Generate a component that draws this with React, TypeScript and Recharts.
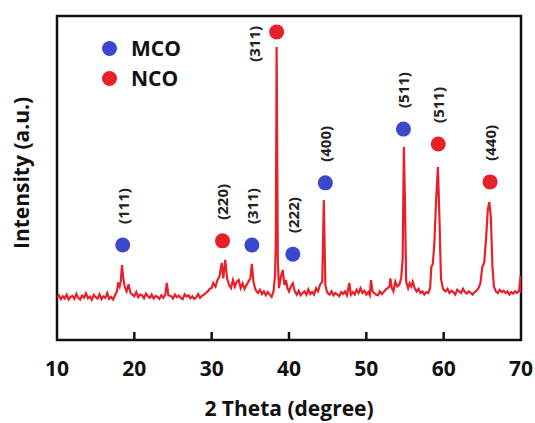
import React from 'react';
import {
  ComposedChart,
  Line,
  Scatter,
  XAxis,
  YAxis,
  ReferenceArea,
} from 'recharts';

// XRD pattern: [2θ, intensity (a.u.)]
const xrdPattern: [number, number][] = [
  [10, 130], [10.25, 138], [10.5, 126], [10.75, 135],
  [11, 128], [11.25, 140], [11.5, 125], [11.75, 133],
  [12, 136], [12.25, 127], [12.5, 142], [12.75, 130],
  [13, 125], [13.25, 137], [13.5, 131], [13.75, 144],
  [14, 129], [14.25, 134], [14.5, 124], [14.75, 139],
  [15, 132], [15.25, 128], [15.5, 141], [15.75, 126],
  [16, 135], [16.25, 130], [16.5, 145], [16.75, 127],
  [17, 133], [17.25, 125], [17.5, 138], [17.75, 150],
  [17.9, 178], [18.1, 165], [18.25, 180], [18.4, 231], [18.55, 195], [18.75, 165],
  [19, 150], [19.25, 172], [19.5, 145], [19.75, 140],
  [20, 135], [20.25, 148], [20.5, 132], [20.75, 140],
  [21, 138], [21.25, 129], [21.5, 143], [21.75, 135],
  [22, 130], [22.25, 140], [22.5, 128], [22.75, 136],
  [23, 133], [23.25, 127], [23.5, 138], [23.75, 130],
  [24, 140], [24.2, 176], [24.4, 138], [24.75, 135],
  [25, 128], [25.25, 140], [25.5, 132], [25.75, 137],
  [26, 130], [26.25, 126], [26.5, 141], [26.75, 134],
  [27, 138], [27.25, 129], [27.5, 135], [27.75, 127],
  [28, 132], [28.25, 142], [28.5, 130], [28.75, 136],
  [29, 140], [29.25, 145], [29.5, 150], [29.75, 158],
  [30, 160], [30.2, 176], [30.5, 165], [30.75, 185],
  [31, 195], [31.3, 238], [31.5, 190], [31.75, 247], [32, 190],
  [32.25, 170], [32.5, 160], [32.75, 185],
  [33, 165], [33.25, 180], [33.5, 185], [33.75, 160],
  [34, 175], [34.25, 158], [34.5, 170], [34.75, 180],
  [35, 190], [35.2, 235], [35.4, 180], [35.6, 160], [35.8, 150],
  [36, 145], [36.25, 155], [36.5, 142], [36.75, 150],
  [37, 138], [37.25, 148], [37.5, 140], [37.75, 133],
  [38, 150], [38.2, 200], [38.3, 320], [38.4, 904], [38.55, 250], [38.7, 160],
  [39, 200], [39.2, 216], [39.4, 170], [39.6, 185], [39.8, 160],
  [40, 150], [40.25, 165], [40.5, 175], [40.75, 150],
  [41, 140], [41.25, 152], [41.5, 138], [41.75, 145],
  [42, 150], [42.25, 140], [42.5, 156], [42.75, 142],
  [43, 148], [43.25, 140], [43.5, 160], [43.75, 150],
  [44, 170], [44.3, 180], [44.5, 432], [44.7, 170], [44.9, 150],
  [45, 145], [45.25, 140], [45.5, 150], [45.75, 138],
  [46, 145], [46.25, 140], [46.5, 135], [46.75, 148],
  [47, 142], [47.25, 150], [47.5, 138], [47.8, 176],
  [48, 140], [48.25, 148], [48.5, 140], [48.75, 155],
  [49, 145], [49.25, 160], [49.5, 145], [49.75, 152],
  [50, 140], [50.25, 148], [50.45, 138], [50.6, 185], [50.8, 150],
  [51, 145], [51.25, 140], [51.5, 138], [51.75, 150],
  [52, 142], [52.25, 148], [52.5, 155], [52.75, 160],
  [53, 165], [53.1, 190], [53.3, 160], [53.5, 150], [53.75, 180],
  [54, 165], [54.25, 170], [54.5, 190], [54.7, 250], [54.85, 596], [55, 420], [55.15, 180], [55.4, 160],
  [55.6, 175], [55.8, 165],
  [56, 180], [56.25, 160], [56.5, 150], [56.75, 158],
  [57, 145], [57.25, 150], [57.5, 140], [57.75, 148],
  [58, 145], [58.25, 160], [58.4, 225], [58.6, 235], [58.8, 300], [59, 420], [59.25, 534], [59.45, 380], [59.65, 190], [59.9, 160],
  [60, 155], [60.25, 150], [60.5, 158], [60.75, 145],
  [61, 152], [61.25, 148], [61.5, 140], [61.75, 155],
  [62, 150], [62.25, 145], [62.5, 158], [62.75, 148],
  [63, 143], [63.25, 150], [63.5, 145], [63.75, 140],
  [64, 148], [64.25, 152], [64.5, 160], [64.75, 175],
  [65, 225], [65.25, 240], [65.5, 320], [65.7, 400], [65.9, 426], [66.1, 380], [66.3, 230], [66.5, 165], [66.75, 150],
  [67, 145], [67.25, 155], [67.5, 148], [67.75, 152],
  [68, 145], [68.25, 150], [68.5, 140], [68.75, 148],
  [69, 143], [69.25, 150], [69.5, 145], [69.75, 152],
  [69.95, 198], [70, 145],
];

const patternData = xrdPattern.map(([x, y]) => ({ x, y }));

// Phase markers
const mcoPeaks = [18.5, 35.2, 40.5, 44.7, 54.8];
const mcoHeights = [293, 293, 265, 485, 651];
const mcoLabels = ['(111)', '(311)', '(222)', '(400)', '(511)'];

const ncoPeaks = [31.4, 38.4, 59.3, 66.0];
const ncoHeights = [306, 951, 605, 488];
const ncoLabels = ['(220)', '(311)', '(511)', '(440)'];

const xTicks = [10, 20, 30, 40, 50, 60, 70];

const mcoData = mcoPeaks.map((x, i) => ({ x, y: mcoHeights[i], label: mcoLabels[i], phase: 'MCO' }));
const ncoData = ncoPeaks.map((x, i) => ({ x, y: ncoHeights[i], label: ncoLabels[i], phase: 'NCO' }));

const BLUE = '#3b47cc';
const RED = '#e8202a';
const FONT = '"Open Sans", "DejaVu Sans", sans-serif';

const makeShape = (color: string) => (props: any) => {
  const { cx, cy, payload } = props;
  if (cx == null || cy == null) return null;
  // the strongest NCO reflection has its index written to the left of the marker
  const side = payload.phase === 'NCO' && payload.y > 900;
  const lx = side ? cx - 23 : cx;
  const ly = side ? cy + 12 : cy - 39;
  return (
    <g>
      <circle cx={cx} cy={cy} r={7.5} fill={color} />
      <text
        x={lx}
        y={ly}
        transform={`rotate(-90, ${lx}, ${ly})`}
        textAnchor="middle"
        dominantBaseline="central"
        fontFamily={FONT}
        fontWeight={700}
        fontSize={15}
        fill="#222"
      >
        {payload.label}
      </text>
    </g>
  );
};

const XTick = (props: any) => {
  const { x, y, payload } = props;
  const inner = payload.value !== 10 && payload.value !== 70;
  return (
    <g>
      {inner && <line x1={x} y1={y} x2={x} y2={y - 8} stroke="#111" strokeWidth={2.5} />}
      <text
        x={x}
        y={y + 36}
        textAnchor="middle"
        fontFamily={FONT}
        fontWeight={700}
        fontSize={21}
        fill="#111"
      >
        {payload.value}
      </text>
    </g>
  );
};

const legendItems = [
  { name: 'MCO', color: BLUE },
  { name: 'NCO', color: RED },
];

const LegendBox = () => (
  <div
    style={{
      position: 'absolute',
      left: 102,
      top: 33,
      fontFamily: FONT,
      fontWeight: 700,
      fontSize: 21,
      color: '#111',
      lineHeight: '30px',
    }}
  >
    {legendItems.map((it) => (
      <div key={it.name} style={{ display: 'flex', alignItems: 'center', height: 30 }}>
        <span
          style={{
            display: 'inline-block',
            width: 15,
            height: 15,
            borderRadius: '50%',
            background: it.color,
            marginRight: 14,
          }}
        />
        {it.name}
      </div>
    ))}
  </div>
);

export default function App() {
  return (
    <div style={{ position: 'absolute', left: 0, top: 0, width: 535, height: 423, background: '#fff' }}>
      <ComposedChart
        width={535}
        height={423}
        margin={{ top: 16, right: 14, bottom: 0, left: 0 }}
      >
        <XAxis
          dataKey="x"
          type="number"
          domain={[10, 70]}
          ticks={xTicks}
          allowDataOverflow
          height={83}
          tickLine={false}
          axisLine={false}
          tickSize={0}
          tickMargin={0}
          tick={<XTick />}
          label={{
            content: (p: any) => {
              const vb = p.viewBox;
              return (
                <text
                  x={vb.x + vb.width / 2}
                  y={vb.y + 76}
                  textAnchor="middle"
                  fontFamily={FONT}
                  fontWeight={700}
                  fontSize={21}
                  fill="#111"
                >
                  2 Theta (degree)
                </text>
              );
            },
          }}
        />
        <YAxis
          type="number"
          domain={[0, 1000]}
          allowDataOverflow
          width={57}
          tick={false}
          tickLine={false}
          axisLine={false}
          label={{
            content: (p: any) => {
              const vb = p.viewBox;
              const cx = 21;
              const cy = vb.y + vb.height / 2 - 5;
              return (
                <text
                  x={cx}
                  y={cy}
                  transform={`rotate(-90, ${cx}, ${cy})`}
                  textAnchor="middle"
                  dominantBaseline="central"
                  fontFamily={FONT}
                  fontWeight={700}
                  fontSize={21}
                  fill="#111"
                >
                  Intensity (a.u.)
                </text>
              );
            },
          }}
        />
        <ReferenceArea
          x1={10}
          x2={70}
          y1={0}
          y2={1000}
          fill="none"
          stroke="#111"
          strokeWidth={2.5}
          ifOverflow="visible"
        />
        <Line
          data={patternData}
          dataKey="y"
          type="linear"
          stroke={RED}
          strokeWidth={2.2}
          dot={false}
          isAnimationActive={false}
        />
        <Scatter data={mcoData} dataKey="y" fill={BLUE} shape={makeShape(BLUE)} isAnimationActive={false} />
        <Scatter data={ncoData} dataKey="y" fill={RED} shape={makeShape(RED)} isAnimationActive={false} />
      </ComposedChart>
      <LegendBox />
    </div>
  );
}
